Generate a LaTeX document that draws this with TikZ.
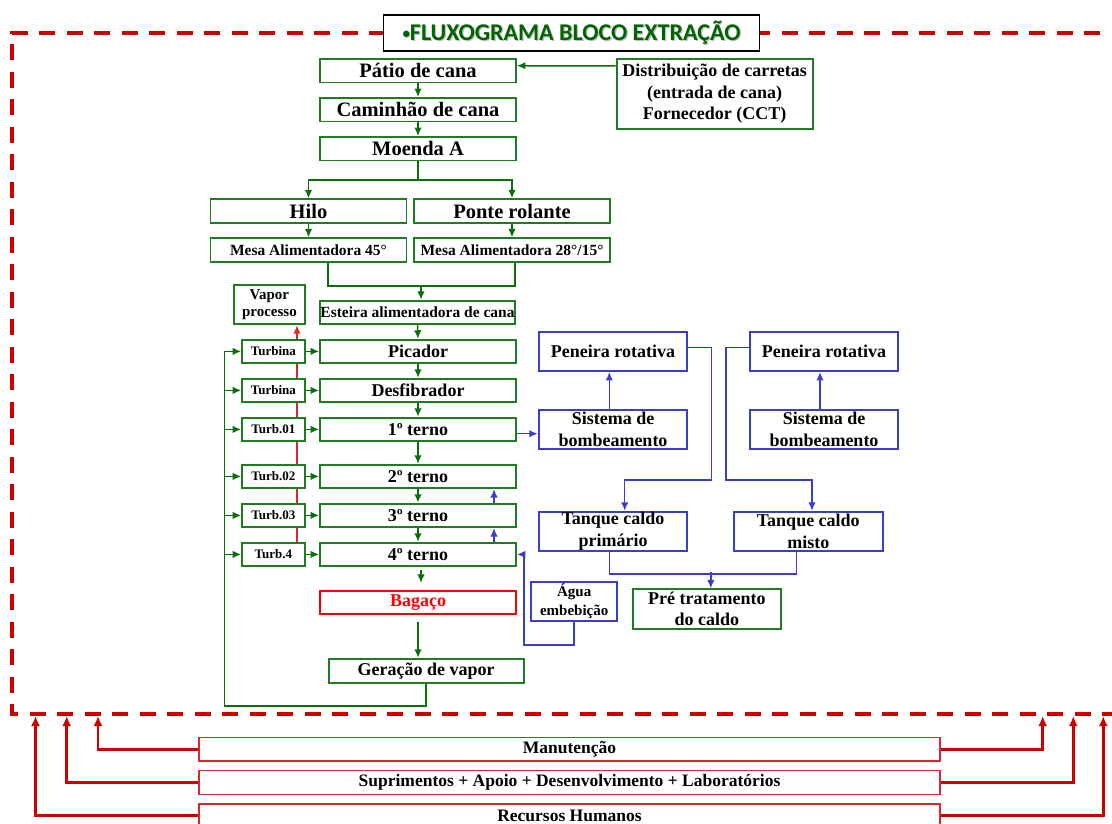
\documentclass[tikz,border=0pt]{standalone}
\usepackage{fontspec}
\setmainfont{Liberation Serif}
\newfontfamily\titlefont{Carlito}
\usepackage{tikz}
\usetikzlibrary{calc, arrows.meta}
\usepackage{xcolor}

\definecolor{boxgreen}{RGB}{30,125,30}
\definecolor{linegreen}{RGB}{10,110,10}
\definecolor{titlegreen}{RGB}{0,100,0}
\definecolor{boxblue}{RGB}{60,60,205}
\definecolor{framered}{RGB}{205,0,0}
\definecolor{boxred}{RGB}{215,40,40}
\definecolor{bagred}{RGB}{255,0,0}

\newcommand{\shadowtxt}[1]{\makebox[0pt][l]{\hspace{1.2pt}\raisebox{-1.2pt}{\color{black!25}#1}}#1}

\begin{document}
\begin{tikzpicture}[x=1pt, y=-1pt,
    gbox/.style={draw=boxgreen, line width=1.8pt, fill=white, inner sep=0pt, align=center},
    bbox/.style={draw=boxblue, line width=1.8pt, fill=white, inner sep=0pt, align=center},
    rbox/.style={draw=boxred, line width=1.4pt, fill=white, inner sep=0pt, minimum width=741pt, minimum height=23.5pt, font=\fontsize{17.5}{20}\selectfont\bfseries},
    widebox/.style={minimum width=196pt, minimum height=23.5pt},
    turb/.style={gbox, minimum width=62.7pt, minimum height=23.5pt, font=\fontsize{13}{15}\selectfont\bfseries},
    bigtxt/.style={font=\fontsize{20.5}{23}\selectfont\bfseries},
    midtxt/.style={font=\fontsize{18}{21.5}\selectfont\bfseries},
    smalltxt/.style={font=\fontsize{15.5}{17}\selectfont\bfseries},
    gline/.style={draw=linegreen, line width=1.5pt},
    garrow/.style={gline, -{Latex[length=8.5pt,width=7.5pt]}},
    bline/.style={draw=boxblue, line width=1.5pt},
    barrow/.style={bline, -{Latex[length=8.5pt,width=7.5pt]}},
    rline/.style={draw=boxred, line width=1.6pt},
    rarrow/.style={draw=framered, line width=2.6pt, -{Latex[length=10pt,width=9pt]}},
    redframe/.style={draw=framered, line width=4pt, dash pattern=on 16pt off 11.5pt}
]

    % 1. Fix the page
    \useasboundingbox (0,0) rectangle (1112,823);

    % 2. Red dashed frame and the title over it
    \coordinate (tl) at (11.7,32.7);
    \coordinate (br) at (1118,714);
    \draw[redframe] (385,32.7) -- (tl) |- (br) |- (760,32.7);
    \node[draw=black, line width=1.6pt, fill=white, minimum width=376pt, minimum height=35.5pt, inner sep=0pt,
          text=titlegreen, font=\titlefont\fontsize{24}{24}\selectfont\bfseries] (title) at (571.5,33)
          {\shadowtxt{{\fontsize{15}{15}\selectfont\raisebox{2pt}{•}}FLUXOGRAMA BLOCO EXTRAÇÃO}};

    % 3. Cane reception and feeding
    \node[gbox, widebox, bigtxt] (patio) at (418,70.7) {Pátio de cana};
    \node[gbox, widebox, bigtxt] (caminhao) at (418,109.7) {Caminhão de cana};
    \node[gbox, widebox, bigtxt] (moenda) at (418,148.7) {Moenda A};
    \node[gbox, minimum width=196pt, minimum height=70.6pt, midtxt] (distrib) at (714.6,94)
          {Distribuição de carretas\\(entrada de cana)\\Fornecedor (CCT)};
    \node[gbox, widebox, bigtxt] (hilo) at (308.5,211) {Hilo};
    \node[gbox, widebox, bigtxt] (ponte) at (512,211) {Ponte rolante};
    \node[gbox, widebox, smalltxt] (mesa45) at (308.5,250) {Mesa Alimentadora 45°};
    \node[gbox, widebox, smalltxt] (mesa28) at (512,250) {Mesa Alimentadora 28°/15°};
    \node[gbox, minimum width=195pt, minimum height=23.6pt, smalltxt] (esteira) at (417.5,312.5) {Esteira alimentadora de cana};
    \node[gbox, minimum width=70.7pt, minimum height=39pt, font=\fontsize{15}{16.5}\selectfont\bfseries] (vapor) at (269.4,304.8) {Vapor\\processo};

    % 4. Mill tandem and its turbines
    \node[gbox, widebox, midtxt] (picador) at (418,351.4) {Picador};
    \node[gbox, widebox, midtxt] (desfib) at (418,390.4) {Desfibrador};
    \node[gbox, widebox, midtxt] (terno1) at (418,429.4) {1º terno};
    \node[gbox, widebox, midtxt] (terno2) at (418,476.4) {2º terno};
    \node[gbox, widebox, midtxt] (terno3) at (418,515.4) {3º terno};
    \node[gbox, widebox, midtxt] (terno4) at (418,554.4) {4º terno};
    \node[draw=bagred, line width=1.6pt, fill=white, inner sep=0pt, widebox, midtxt, text=bagred] (bagaco) at (418,602.5) {Bagaço};
    \node[gbox, minimum width=195pt, minimum height=24.3pt, midtxt] (geracao) at (426.2,670.8) {Geração de vapor};

    \node[turb] (turb1) at (273.4,351.4) {Turbina};
    \node[turb] (turb2) at (273.4,390.4) {Turbina};
    \node[turb] (t01) at (273.4,429.4) {Turb.01};
    \node[turb] (t02) at (273.4,476.4) {Turb.02};
    \node[turb] (t03) at (273.4,515.4) {Turb.03};
    \node[turb] (t4) at (273.4,554.4) {Turb.4};

    % 5. Juice side
    \node[bbox, minimum width=148.6pt, minimum height=38.7pt, midtxt] (peneira1) at (613,351.7) {Peneira rotativa};
    \node[bbox, minimum width=148.6pt, minimum height=38.7pt, midtxt] (sistema1) at (613,429.5) {Sistema de\\bombeamento};
    \node[bbox, minimum width=148.6pt, minimum height=38.7pt, midtxt] (peneira2) at (824,351.7) {Peneira rotativa};
    \node[bbox, minimum width=148.6pt, minimum height=38.7pt, midtxt] (sistema2) at (824,429.5) {Sistema de\\bombeamento};
    \node[bbox, minimum width=148.6pt, minimum height=39pt, midtxt] (tanque1) at (613,531.2) {Tanque caldo\\primário};
    \node[bbox, minimum width=148.7pt, minimum height=39pt, midtxt] (tanque2) at (808.3,531.2) {Tanque caldo\\misto};
    \node[gbox, minimum width=148.3pt, minimum height=39.4pt, midtxt] (pretrat) at (706.8,609) {Pré tratamento\\do caldo};
    \node[bbox, minimum width=86.3pt, minimum height=39.3pt, font=\fontsize{15}{19}\selectfont\bfseries] (agua) at (574.2,601.4) {Água\\embebição};

    % 6. Support areas
    \node[rbox] (manut) at (569.5,749.4) {Manutenção};
    \node[rbox] (supri) at (569.5,782.5) {Suprimentos + Apoio + Desenvolvimento + Laboratórios};
    \node[rbox] (rh) at (569.5,815.7) {Recursos Humanos};

    % 7. Green flow
    \draw[garrow] ($(distrib.north west)+(0,8)$) -- ($(patio.north east)+(0,7.7)$);
    \draw[garrow] (patio) -- (caminhao);
    \draw[garrow] (caminhao) -- (moenda);
    \coordinate (split) at (418,180);
    \draw[gline] (moenda.south) -- (split);
    \draw[garrow] (split) -| (hilo.north);
    \draw[garrow] (split) -| (ponte.north);
    \draw[garrow] (hilo) -- (mesa45);
    \draw[garrow] (ponte) -- (mesa28);
    \coordinate (join) at (421,285);
    \draw[gline] ($(mesa45.south)+(19.5,0)$) |- ($(mesa28.south)+(3,23.3)$) -- ($(mesa28.south)+(3,0)$);
    \draw[garrow] (join) -- (esteira.north -| join);
    \draw[garrow] (esteira) -- (picador);
    \draw[garrow] (picador) -- (desfib);
    \draw[garrow] (desfib) -- (terno1);
    \draw[garrow] (terno1) -- (terno2);
    \draw[garrow] (terno2) -- (terno3);
    \draw[garrow] (terno3) -- (terno4);
    \draw[garrow] ($(terno4.south)+(3,3)$) -- ($(bagaco.north)+(3,-7)$);
    \draw[garrow] ($(bagaco.south)+(0,7)$) -- (geracao.north -| bagaco.south);

    % turbines drive the mills
    \draw[garrow] (turb1) -- (picador);
    \draw[garrow] (turb2) -- (desfib);
    \draw[garrow] (t01) -- (terno1);
    \draw[garrow] (t02) -- (terno2);
    \draw[garrow] (t03) -- (terno3);
    \draw[garrow] (t4) -- (terno4);

    % steam back to the turbines
    \coordinate (loop) at (224.3,706);
    \draw[gline] (geracao.south) |- (loop) -- (loop |- turb1.west);
    \draw[garrow] (loop |- turb1.west) -- (turb1.west);
    \draw[garrow] (loop |- turb2.west) -- (turb2.west);
    \draw[garrow] (loop |- t01.west) -- (t01.west);
    \draw[garrow] (loop |- t02.west) -- (t02.west);
    \draw[garrow] (loop |- t03.west) -- (t03.west);
    \draw[garrow] (loop |- t4.west) -- (t4.west);

    % exhaust steam
    \coordinate (rl) at (297,0);
    \draw[rline] (t4.north -| rl) -- (t03.south -| rl) (t03.north -| rl) -- (t02.south -| rl)
                 (t02.north -| rl) -- (t01.south -| rl) (t01.north -| rl) -- (turb2.south -| rl)
                 (turb2.north -| rl) -- (turb1.south -| rl);
    \draw[rline, -{Latex[length=8.5pt,width=7.5pt]}] (turb1.north -| rl) -- (vapor.south -| rl);

    % 8. Juice and imbibition
    \draw[barrow] ($(terno1.east)+(0,4.3)$) -- ($(sistema1.west)+(0,4.2)$);
    \draw[barrow] ($(sistema1.north)+(-3.7,0)$) -- ($(peneira1.south)+(-3.7,0)$);
    \draw[barrow] ($(sistema2.north)+(-4,0)$) -- ($(peneira2.south)+(-4,0)$);
    \draw[gline] ($(peneira1.east)+(0,-4.4)$) -- ++(23.4,0) coordinate (out1);
    \draw[barrow] (out1) -- ++(0,132.7) -| ($(tanque1.north)+(11.7,0)$);
    \draw[gline] ($(peneira2.west)+(0,-4.4)$) -- ++(-23,0) coordinate (out2);
    \draw[barrow] (out2) -- ++(0,132.7) -| ($(tanque2.north)+(3.7,0)$);
    \draw[bline] ($(tanque1.south)+(-3.7,0)$) |- ($(tanque2.south)+(-11.6,22.6)$) -- ($(tanque2.south)+(-11.6,0)$);
    \draw[barrow] ($(pretrat.north)+(4,-16)$) -- ($(pretrat.north)+(4,0)$);
    \coordinate (upx) at (494,0);
    \draw[barrow] (terno4.north -| upx) -- (terno3.south -| upx);
    \draw[barrow] (terno3.north -| upx) -- (terno2.south -| upx);
    \draw[barrow] (agua.south) -- ++(0,23) -| ($(terno4.east)+(7,0)$) -- (terno4.east);

    % 9. Support arrows into the frame
    \coordinate (in1) at (98,716);
    \coordinate (in2) at (66.7,716);
    \coordinate (in3) at (35.5,716);
    \coordinate (in4) at (1042.7,716);
    \coordinate (in5) at (1073.3,716);
    \coordinate (in6) at (1103.3,716);
    \draw[rarrow] (manut.west) -| (in1);
    \draw[rarrow] (supri.west) -| (in2);
    \draw[rarrow] (rh.west) -| (in3);
    \draw[rarrow] (manut.east) -| (in4);
    \draw[rarrow] (supri.east) -| (in5);
    \draw[rarrow] (rh.east) -| (in6);

\end{tikzpicture}
\end{document}
